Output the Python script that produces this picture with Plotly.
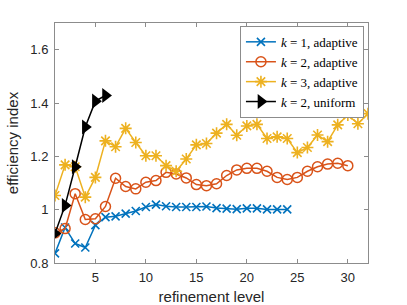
import plotly.graph_objects as go

k1_adaptive = [0.836, 0.933, 0.873, 0.858, 0.942, 0.972, 0.975, 0.985, 0.995, 1.010,
               1.019, 1.013, 1.010, 1.010, 1.010, 1.012, 1.006, 1.004, 1.002, 1.005,
               1.005, 1.001, 1.001, 1.001]
k2_adaptive = [0.913, 0.929, 1.060, 0.963, 0.966, 1.012, 1.118, 1.087, 1.078, 1.103,
               1.109, 1.140, 1.134, 1.119, 1.094, 1.090, 1.097, 1.128, 1.149, 1.155,
               1.155, 1.144, 1.121, 1.113, 1.121, 1.144, 1.161, 1.171, 1.174, 1.165]
k3_adaptive = [1.053, 1.168, 1.161, 1.047, 1.121, 1.258, 1.236, 1.305, 1.252, 1.202,
               1.202, 1.165, 1.144, 1.190, 1.243, 1.248, 1.287, 1.320, 1.279, 1.314,
               1.320, 1.267, 1.273, 1.267, 1.214, 1.233, 1.280, 1.255, 1.318, 1.355,
               1.322, 1.360]
k2_uniform = [0.911, 1.016, 1.161, 1.310, 1.407, 1.428]

names = ["<i>k</i> = 1, adaptive", "<i>k</i> = 2, adaptive",
         "<i>k</i> = 3, adaptive", "<i>k</i> = 2, uniform"]
colors = ["#0072BD", "#D95319", "#EDB120", "#000000"]

x_ticks = [5, 10, 15, 20, 25, 30]
y_ticks = [0.8, 1.0, 1.2, 1.4, 1.6]
y_tick_labels = ["0.8", "1", "1.2", "1.4", "1.6"]

fig = go.Figure()

def levels(vals):
    return list(range(1, len(vals) + 1))

fig.add_trace(go.Scatter(
    x=levels(k1_adaptive), y=k1_adaptive, name=names[0], mode="lines+markers",
    line=dict(color=colors[0], width=1.5),
    marker=dict(symbol="x-thin-open", size=8, color=colors[0],
                line=dict(color=colors[0], width=1.6))))
fig.add_trace(go.Scatter(
    x=levels(k2_adaptive), y=k2_adaptive, name=names[1], mode="lines+markers",
    line=dict(color=colors[1], width=1.5),
    marker=dict(symbol="circle-open", size=10, color=colors[1],
                line=dict(color=colors[1], width=1.5))))
fig.add_trace(go.Scatter(
    x=levels(k3_adaptive), y=k3_adaptive, name=names[2], mode="lines+markers",
    line=dict(color=colors[2], width=1.5),
    marker=dict(symbol="asterisk-open", size=10, color=colors[2],
                line=dict(color=colors[2], width=1.6))))
fig.add_trace(go.Scatter(
    x=levels(k2_uniform), y=k2_uniform, name=names[3], mode="lines+markers",
    line=dict(color=colors[3], width=1.5),
    marker=dict(symbol="triangle-right", size=13, color=colors[3])))

axis_common = dict(
    showline=True, linecolor="#8c8c8c", linewidth=1, mirror="ticks",
    ticks="inside", ticklen=4, tickcolor="#8c8c8c", tickwidth=1,
    showgrid=False, zeroline=False,
    tickfont=dict(family="Liberation Sans, Arial", size=13, color="#262626"),
)

fig.update_xaxes(range=[1, 32], tickvals=x_ticks, ticklabelstandoff=2,
                 automargin=False,
                 title=dict(text="refinement level",
                            font=dict(family="Liberation Sans, Arial", size=15, color="#262626")),
                 **axis_common)
fig.update_yaxes(range=[0.8, 1.7], tickvals=y_ticks, ticktext=y_tick_labels,
                 ticklabelstandoff=3, automargin=True,
                 title=dict(text="efficiency index", standoff=8,
                            font=dict(family="Liberation Sans, Arial", size=15, color="#262626")),
                 **axis_common)

fig.update_layout(
    width=407, height=305,
    margin=dict(l=53, r=39, t=23, b=42),
    paper_bgcolor="white", plot_bgcolor="white",
    showlegend=True,
    legend=dict(x=0.987, y=0.988, xanchor="right", yanchor="top",
                bgcolor="white", bordercolor="#8c8c8c", borderwidth=1,
                font=dict(family="Liberation Serif, Times New Roman, serif", size=13, color="#000000"),
                itemwidth=30, tracegroupgap=0,
                ),
)

fig.write_html("out.html", config={"displayModeBar": False},
               post_script="document.body.style.margin='0';document.body.style.overflow='hidden';")
